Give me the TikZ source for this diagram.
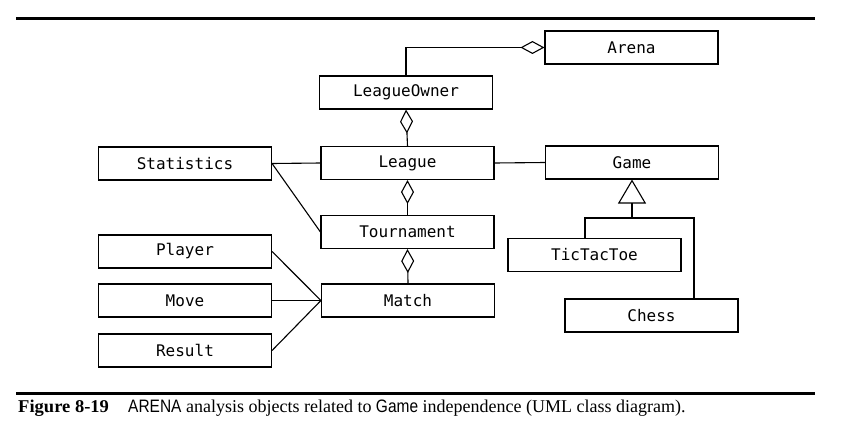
\documentclass[tikz,border=0pt]{standalone}
\usepackage{fontspec}
\usepackage{graphicx}
\setmainfont{Liberation Serif}
\newfontfamily\boxfont{DejaVu Sans Mono}
\newfontfamily\capsans{Liberation Sans}
\usetikzlibrary{arrows.meta}
\tikzset{
  cls/.style={draw, line width=1.1pt, minimum width=173pt, minimum height=33pt,
    inner sep=0pt, font=\boxfont\fontsize{16}{18}\selectfont},
  conn/.style={line width=1.1pt},
  agg/.style={conn, -{Diamond[open, length=24pt, width=13pt, line width=1.1pt]}},
  gen/.style={conn, -{Triangle[open, length=24pt, width=28pt, line width=1.1pt]}},
  rule/.style={line width=2.6pt},
  captext/.style={inner sep=0pt, anchor=base west, font=\fontsize{18}{20}\selectfont}
}
\newcommand{\capsf}[1]{\scalebox{0.86}[1]{\capsans #1}}
\begin{document}
\begin{tikzpicture}[x=1pt, y=-1pt]
\useasboundingbox (0,0) rectangle (845,444);
% rules
\coordinate (rtl) at (16,18.5);
\coordinate (rtr) at (815,18.5);
\coordinate (rbl) at (16,393.5);
\coordinate (rbr) at (815,393.5);
\draw[rule] (rtl) -- (rtr);
\draw[rule] (rbl) -- (rbr);
% classes
\node[cls] (arena) at (631.5,47.5) {Arena};
\node[cls] (lo) at (406,92.5) {LeagueOwner};
\node[cls] (league) at (407.5,163) {League};
\node[cls] (stat) at (185,163.5) {Statistics};
\node[cls] (game) at (632,162.5) {Game};
\node[cls] (tour) at (407.5,232) {Tournament};
\node[cls] (match) at (408,300.5) {Match};
\node[cls] (player) at (185,251.5) {Player};
\node[cls] (move) at (185,300.5) {Move};
\node[cls] (result) at (185,350.5) {Result};
\node[cls] (ttt) at (594.5,255) {TicTacToe};
\node[cls] (chess) at (651.5,315.5) {Chess};
% aggregations
\draw[agg] (lo.north) |- (arena.west);
\draw[agg] (league.north) -- (lo.south);
\draw[agg] (tour.north) -- (league.south);
\draw[agg] (match.north) -- (tour.south);
% associations
\draw[conn] (stat.east) -- (league.west);
\draw[conn] (league.east) -- (game.west);
\draw[conn] (stat.east) -- (tour.west);
\draw[conn] (player.east) -- (match.west);
\draw[conn] (move.east) -- (match.west);
\draw[conn] (result.east) -- (match.west);
% generalization
\coordinate (j) at (632,218);
\draw[gen] (j) -- (game.south);
\draw[conn] ([xshift=-9.5pt]ttt.north) |- (j) -| ([xshift=42.5pt]chess.north);
% caption
\node[captext] (capnum) at (18,412) {\scalebox{1.03}[1]{\textbf{Figure 8-19}}};
\node[captext] (captxt) at (128,412) {\capsf{ARENA} analysis objects related to \capsf{Game} independence (UML class diagram).};
\end{tikzpicture}
\end{document}
